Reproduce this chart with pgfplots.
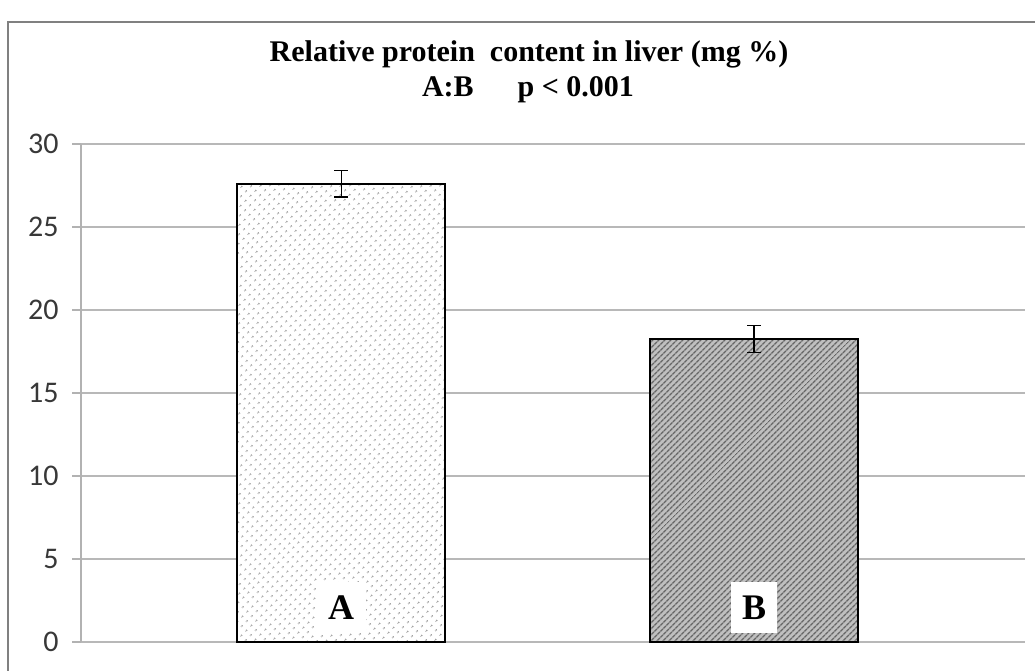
\documentclass[border=0pt]{standalone}
\usepackage{fontspec}
\setmainfont{Liberation Serif}
\newfontfamily\tickfont{Carlito}
\usepackage{pgfplots}
\pgfplotsset{compat=1.18}
\usetikzlibrary{patterns.meta}
\begin{document}
\begin{tikzpicture}[x=1pt,y=1pt]
\useasboundingbox (0,0) rectangle (1035,670);
\fill[white] (0,0) rectangle (1035,670);
\draw[black!50, line width=2pt] (8,-10) -- (8,648) -- (1045,648);
\begin{axis}[
  at={(81pt,28pt)}, anchor=south west,
  scale only axis, width=944pt, height=498pt,
  xmin=-0.63, xmax=1.656, ymin=0, ymax=30,
  ytick={0,5,...,30}, xtick=\empty,
  ymajorgrids, grid style={black!28, line width=1.6pt},
  axis lines*=left,
  x axis line style={draw=none},
  y axis line style={black!30, line width=1.4pt},
  tick align=outside, major tick length=9pt,
  tick style={black!30, line width=1.4pt},
  /pgf/number format/assume math mode=true,
  yticklabel style={font=\tickfont\fontsize{30}{30}\selectfont, text=black!78, xshift=-10pt},
  clip=false,
]
\addplot[ybar, bar shift=0pt, bar width=208pt, draw=black, line width=2.6pt,
  fill=white, postaction={pattern={Dots[distance=6.5pt, angle=45, radius=1.1pt]}, pattern color=black!45},
  error bars/.cd, y dir=both, y explicit,
  error bar style={line width=1.3pt, black},
  error mark options={rotate=90, mark size=7pt, line width=1.3pt, black}]
  coordinates {(0,27.6) +- (0,0.8)};
\addplot[ybar, bar shift=0pt, bar width=208pt, draw=black, line width=2.6pt,
  fill=black!25, postaction={pattern={Lines[angle=45, distance=4pt, line width=1.4pt]}, pattern color=black!60},
  error bars/.cd, y dir=both, y explicit,
  error bar style={line width=1.3pt, black},
  error mark options={rotate=90, mark size=7pt, line width=1.3pt, black}]
  coordinates {(1,18.25) +- (0,0.82)};
\node[fill=white, inner sep=0pt, minimum width=50pt, minimum height=51pt,
  font=\bfseries\fontsize{36}{36}\selectfont] at (axis cs:0,2.05) {A};
\node[fill=white, inner sep=0pt, minimum width=46pt, minimum height=51pt,
  font=\bfseries\fontsize{36}{36}\selectfont] at (axis cs:1,2.05) {B};
\end{axis}
\node[anchor=base, font=\bfseries\fontsize{30}{30}\selectfont] at (529,608) {Relative protein\ \ content in liver (mg \%)};
\node[anchor=base, font=\bfseries\fontsize{30}{30}\selectfont] at (528,573) {A:B\hspace{44pt}p < 0.001};
\end{tikzpicture}
\end{document}
